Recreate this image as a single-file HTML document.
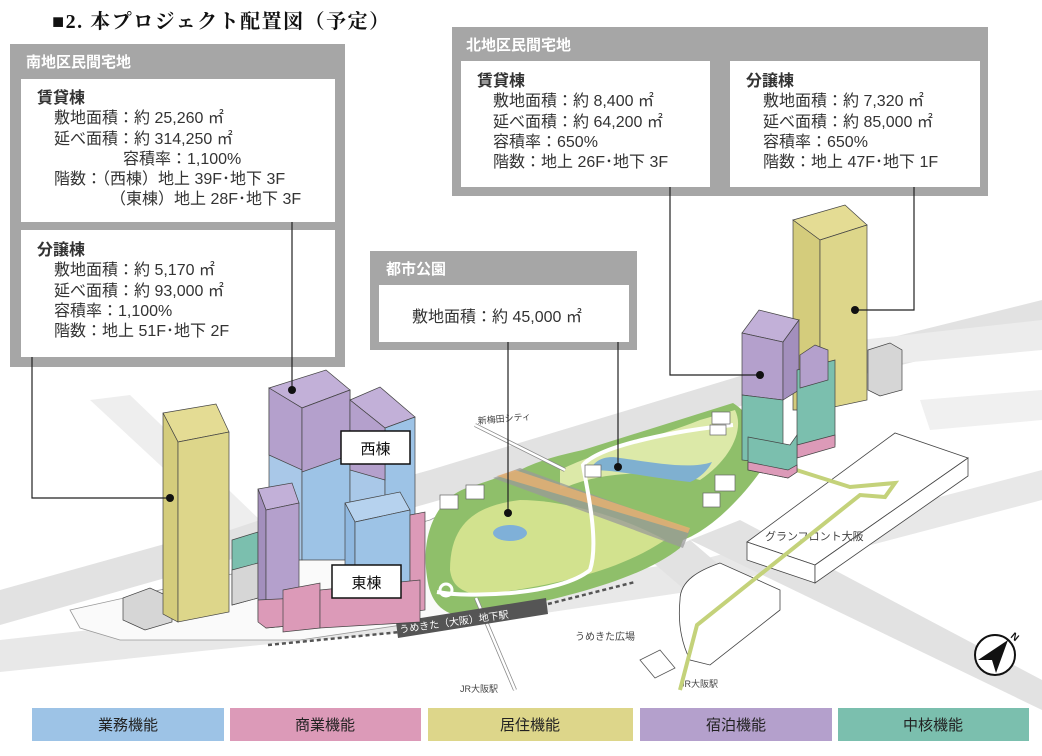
<!DOCTYPE html>
<html><head><meta charset="utf-8"><style>
html,body{margin:0;padding:0;background:#fff;}
body{width:1042px;height:756px;overflow:hidden;position:relative;font-family:"Liberation Sans","Noto Sans CJK JP",sans-serif;color:#333;}
.t{position:absolute;white-space:nowrap;}
.b{font-size:16px;line-height:20.3px;}
</style></head><body>
<svg width="1042" height="756" viewBox="0 0 1042 756" xmlns="http://www.w3.org/2000/svg" style="position:absolute;left:0;top:0" font-family="Liberation Sans, Noto Sans CJK JP, sans-serif">
<g fill="#e2e2e2">
<polygon points="0,590 430,470 760,370 1042,300 1042,330 760,400 440,500 0,625"/>
<polygon points="0,640 270,610 430,600 700,560 1042,470 1042,500 700,590 430,630 260,645 0,672" fill="#e8e8e8"/>
<polygon points="650,560 690,540 760,600 720,620"/>
<polygon points="690,540 740,520 1042,680 1042,710"/>
<polygon points="860,340 1042,320 1042,350 880,365" fill="#ececec"/>
<polygon points="90,400 130,395 260,520 230,530" fill="#eeeeee"/>
<polygon points="920,400 1042,390 1042,420 930,430" fill="#f0f0f0"/>
</g>
<polygon points="70,610 250,570 430,520 470,500 470,615 300,640 120,640 80,628" fill="#fafafa" stroke="#999" stroke-width="0.8"/>
<path d="M427,577 C420,530 440,495 470,487 L520,470 C540,460 560,455 583,450 L733,403 C760,420 770,460 760,472 C740,500 710,530 683,540 L680,548 C640,580 560,600 467,617 C440,615 430,600 427,577Z" fill="#8fbf6a"/>
<path d="M450,570 C450,520 480,505 520,500 C560,500 620,515 665,540 C620,570 560,585 480,595 C460,592 452,585 450,570Z" fill="#d2e28e"/>
<path d="M560,490 C600,470 660,470 700,480 C730,460 745,430 735,410 L700,420 C650,440 600,450 560,470Z" fill="#dce9a8"/>
<path d="M590,470 C620,470 650,478 690,482 C700,478 708,470 712,462 C690,470 650,462 620,458 C605,455 595,460 590,470Z" fill="#7fb0d0"/>
<polygon points="493,478 520,468 690,530 683,548" fill="#9a9a9a" opacity="0.75"/>
<polygon points="497,476 515,470 690,528 688,533" fill="#e8b070" opacity="0.8"/>
<ellipse cx="510" cy="533" rx="17" ry="8" fill="#7fb0d8"/>
<path d="M437,592 C470,598 560,595 590,570 C600,540 585,480 583,465 C600,445 680,430 733,425" fill="none" stroke="#fff" stroke-width="4"/>
<circle cx="446" cy="590" r="6" fill="none" stroke="#fff" stroke-width="3"/>
<path d="M475,425 L565,470" stroke="#888" stroke-width="4"/><path d="M475,425 L565,470" stroke="#fff" stroke-width="2.5"/>
<line x1="476" y1="598" x2="515" y2="690" stroke="#888" stroke-width="4"/><line x1="476" y1="598" x2="515" y2="690" stroke="#fff" stroke-width="2.5"/>
<g fill="#fff" stroke="#666" stroke-width="0.7">
<rect x="440" y="495" width="18" height="14"/><rect x="466" y="485" width="18" height="14"/>
<rect x="585" y="465" width="16" height="12"/><rect x="712" y="412" width="18" height="12"/><rect x="710" y="425" width="16" height="10"/>
<rect x="715" y="475" width="20" height="16"/><rect x="703" y="493" width="17" height="14"/>
</g>
<line x1="268" y1="645" x2="400" y2="632" stroke="#555" stroke-width="2.5" stroke-dasharray="4,3"/>
<line x1="548" y1="604" x2="635" y2="582" stroke="#555" stroke-width="2.5" stroke-dasharray="4,3"/>
<polygon points="396,622 546,598 548,614 398,638" fill="#555"/>
<text x="400" y="633" font-size="10" fill="#fff" transform="rotate(-8 400 633)">うめきた（大阪）地下駅</text>
<text x="478" y="424" font-size="9" fill="#444" transform="rotate(-5 478 424)">新梅田シティ</text>
<text x="575" y="640" font-size="10" fill="#444">うめきた広場</text>
<text x="460" y="692" font-size="9" fill="#444">JR大阪駅</text>
<text x="680" y="687" font-size="9" fill="#444">JR大阪駅</text>
<g stroke="#555" fill="#fff" stroke-width="0.8"><polygon points="640,660 660,650 675,668 655,678"/></g>
<g fill="#fff" stroke="#444" stroke-width="0.8">
<polygon points="747,542 895,433 968,458 815,565"/>
<polygon points="747,542 815,565 815,583 747,560"/>
<polygon points="815,565 968,458 968,476 815,583"/>
<path d="M680,600 C680,580 700,570 720,563 L780,590 L780,610 L710,665 L690,660 C680,640 678,620 680,600Z"/>
</g>
<text x="765" y="540" font-size="11" fill="#444">グランフロント大阪</text>
<polyline points="790,468 850,487 895,483 885,497 860,495 697,625 680,690" fill="none" stroke="#c4d27a" stroke-width="4"/>
<g stroke="#444" stroke-width="0.7">
<polygon points="123,598 150,588 172,598 172,622 145,630 123,620" fill="#d6d6d6"/>
<polygon points="232,540 258,532 258,598 232,605" fill="#7bbfae"/>
<polygon points="232,570 258,563 258,598 232,605" fill="#d6d6d6"/>
<polygon points="163,413 216,404 229,432 178,442" fill="#e4dc94"/>
<polygon points="163,413 178,442 178,622 163,614" fill="#d4cc7c"/>
<polygon points="178,442 229,432 229,612 178,622" fill="#ddd68a"/>
<polygon points="269,388 326,370 350,390 302,408" fill="#c2b0d8"/>
<polygon points="269,388 302,408 302,560 269,560" fill="#a9c8e8"/>
<polygon points="269,388 302,408 302,470 269,455" fill="#b4a0cc"/>
<polygon points="302,408 350,390 350,560 302,560" fill="#9dc3e6"/>
<polygon points="302,408 350,390 350,455 302,472" fill="#b4a0cc"/>
<polygon points="350,400 380,387 415,417 385,428" fill="#c2b0d8"/>
<polygon points="350,400 385,428 385,560 350,560" fill="#a9c8e8"/>
<polygon points="385,428 415,417 415,560 385,560" fill="#9dc3e6"/>
<polygon points="350,400 385,428 385,480 350,470" fill="#b4a0cc"/>
<polygon points="345,503 400,492 410,510 355,522" fill="#b6d2ee"/>
<polygon points="345,503 355,522 355,605 345,600" fill="#8fb8e0"/>
<polygon points="355,522 410,510 410,600 355,608" fill="#9dc3e6"/>
<polygon points="410,515 425,512 425,610 410,612" fill="#dc9ab8"/>
<polygon points="258,489 292,483 299,503 266,510" fill="#c2b0d8"/>
<polygon points="258,489 266,510 266,625 258,620" fill="#a38fbd"/>
<polygon points="266,510 299,503 299,625 266,628" fill="#b4a0cc"/>
<polygon points="258,600 299,598 299,625 266,628 258,622" fill="#dc9ab8"/>
<polygon points="283,590 320,583 320,628 283,632" fill="#dc9ab8"/>
<polygon points="320,590 420,580 420,622 320,628" fill="#dc9ab8"/>
</g>
<g stroke="#444" stroke-width="0.7">
<polygon points="868,350 890,343 902,350 902,390 880,396 868,390" fill="#d6d6d6"/>
<polygon points="793,220 845,205 867,225 820,240" fill="#e4dc94"/>
<polygon points="793,220 820,240 820,410 793,410" fill="#d4cc7c"/>
<polygon points="820,240 867,225 867,400 820,410" fill="#ddd68a"/>
<polygon points="742,333 759,310 799,320 783,342" fill="#c2b0d8"/>
<polygon points="742,333 783,342 783,400 742,395" fill="#b4a0cc"/>
<polygon points="783,342 799,320 799,390 783,400" fill="#a38fbd"/>
<polygon points="742,395 783,400 783,465 742,460" fill="#7bbfae"/>
<polygon points="797,370 835,360 835,445 797,455" fill="#7bbfae"/>
<polygon points="797,445 835,435 835,447 797,458" fill="#dc9ab8"/>
<polygon points="800,355 815,345 828,350 828,380 800,388" fill="#b4a0cc"/>
<polygon points="748,437 790,445 797,435 797,472 788,478 748,470" fill="#7bbfae"/>
<polygon points="748,462 788,470 797,465 797,472 788,478 748,470" fill="#dc9ab8"/>
</g>
<rect x="341" y="431" width="69" height="33" fill="#fff" stroke="#111" stroke-width="1.5"/>
<text x="375.5" y="454" font-size="15" text-anchor="middle" fill="#111">西棟</text>
<rect x="332" y="565" width="69" height="33" fill="#fff" stroke="#111" stroke-width="1.5"/>
<text x="366.5" y="588" font-size="15" text-anchor="middle" fill="#111">東棟</text>
<circle cx="995" cy="655" r="20" fill="#fff" stroke="#111" stroke-width="2"/>
<polygon points="1008,640 978,660 992,660 996,673" fill="#111"/>
<text x="1010" y="637" font-size="10" font-weight="bold" fill="#111" transform="rotate(40 1010 637)">N</text>
<rect x="10" y="44" width="335" height="323" fill="#a6a6a6"/>
<rect x="21" y="79" width="314" height="143" fill="#fff"/>
<rect x="21" y="230" width="314" height="127" fill="#fff"/>
<rect x="452" y="27" width="536" height="169" fill="#a6a6a6"/>
<rect x="461" y="61" width="249" height="126" fill="#fff"/>
<rect x="730" y="61" width="250" height="126" fill="#fff"/>
<rect x="370" y="251" width="267" height="99" fill="#a6a6a6"/>
<rect x="379" y="285" width="250" height="57" fill="#fff"/>
<g stroke="#222" stroke-width="1.2" fill="none">
<polyline points="292,222 292,390"/>
<polyline points="32,357 32,498 170,498"/>
<polyline points="508,342 508,513"/>
<polyline points="618,342 618,467"/>
<polyline points="670,187 670,375 760,375"/>
<polyline points="914,187 914,310 855,310"/>
</g>
<g fill="#111"><circle cx="292" cy="390" r="4"/><circle cx="170" cy="498" r="4"/><circle cx="508" cy="513" r="4"/><circle cx="618" cy="467" r="4"/><circle cx="760" cy="375" r="4"/><circle cx="855" cy="310" r="4"/></g>
<rect x="32" y="708" width="192" height="33" fill="#9dc3e6"/>
<rect x="230" y="708" width="191" height="33" fill="#dc9ab8"/>
<rect x="428" y="708" width="205" height="33" fill="#ddd68a"/>
<rect x="640" y="708" width="192" height="33" fill="#b4a0cc"/>
<rect x="838" y="708" width="191" height="33" fill="#7bbfae"/>
<g font-size="15" fill="#222" text-anchor="middle">
<text x="128" y="730">業務機能</text><text x="325" y="730">商業機能</text><text x="530" y="730">居住機能</text><text x="736" y="730">宿泊機能</text><text x="933" y="730">中核機能</text>
</g>
</svg>
<div class="t" style="left:52px;top:5px;font-family:'Liberation Serif','Noto Serif CJK SC',serif;font-weight:bold;font-size:20px;letter-spacing:1.5px;color:#111;">■2.&nbsp;本プロジェクト配置図（予定）</div>
<div class="t" style="left:26px;top:51px;font-weight:bold;font-size:15px;color:#fff;">南地区民間宅地</div>
<div class="t" style="left:466px;top:34px;font-weight:bold;font-size:15px;color:#fff;">北地区民間宅地</div>
<div class="t" style="left:386px;top:258px;font-weight:bold;font-size:15px;color:#fff;">都市公園</div>
<div class="t b" style="left:37px;top:89px;">
<b>賃貸棟</b><br>
<span style="margin-left:17px">敷地面積：約 25,260 ㎡</span><br>
<span style="margin-left:17px">延べ面積：約 314,250 ㎡</span><br>
<span style="margin-left:86px">容積率：1,100%</span><br>
<span style="margin-left:17px">階数：（西棟）地上 39F･地下 3F</span><br>
<span style="margin-left:73px">（東棟）地上 28F･地下 3F</span></div>
<div class="t b" style="left:37px;top:241px;">
<b>分譲棟</b><br>
<span style="margin-left:17px">敷地面積：約 5,170 ㎡</span><br>
<span style="margin-left:17px">延べ面積：約 93,000 ㎡</span><br>
<span style="margin-left:17px">容積率：1,100%</span><br>
<span style="margin-left:17px">階数：地上 51F･地下 2F</span></div>
<div class="t b" style="left:477px;top:72px;">
<b>賃貸棟</b><br>
<span style="margin-left:16px">敷地面積：約 8,400 ㎡</span><br>
<span style="margin-left:16px">延べ面積：約 64,200 ㎡</span><br>
<span style="margin-left:16px">容積率：650%</span><br>
<span style="margin-left:16px">階数：地上 26F･地下 3F</span></div>
<div class="t b" style="left:746px;top:72px;">
<b>分譲棟</b><br>
<span style="margin-left:17px">敷地面積：約 7,320 ㎡</span><br>
<span style="margin-left:17px">延べ面積：約 85,000 ㎡</span><br>
<span style="margin-left:17px">容積率：650%</span><br>
<span style="margin-left:17px">階数：地上 47F･地下 1F</span></div>
<div class="t" style="left:412px;top:303px;font-size:16px;">敷地面積：約 45,000 ㎡</div>
</body></html>
